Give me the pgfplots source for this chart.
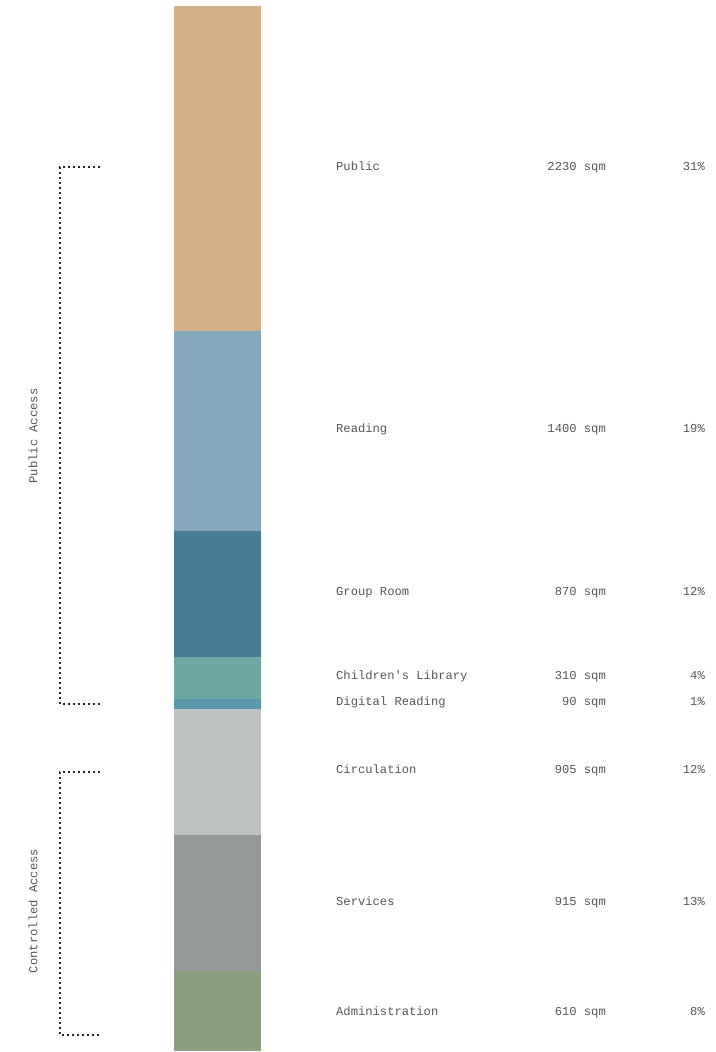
\documentclass[border=0pt]{standalone}
\usepackage{pgfplots}
\pgfplotsset{compat=1.18}
\usepackage{fontspec}
\setmonofont{Liberation Mono}
\definecolor{cPublic}{HTML}{D3B289}
\definecolor{cReading}{HTML}{84A8BA}
\definecolor{cGroup}{HTML}{477E95}
\definecolor{cChild}{HTML}{6DA8A6}
\definecolor{cDigital}{HTML}{5B97AA}
\definecolor{cCirc}{HTML}{BEC1C1}
\definecolor{cServ}{HTML}{949898}
\definecolor{cAdmin}{HTML}{8B9E7F}
\definecolor{txt}{HTML}{555555}
\tikzset{lbl/.style={font=\ttfamily\fontsize{12.2}{14}\selectfont, text=txt, inner sep=0pt},
  brk/.style={black!85, line width=2bp, dash pattern=on 2bp off 3bp}}
\begin{document}
\begin{tikzpicture}
\begin{axis}[name=ax,
  scale only axis, width=716bp, height=1052bp,
  xmin=0, xmax=716, ymin=-6, ymax=1046, y dir=reverse,
  hide axis, clip=false,
  ybar stacked, bar width=87, bar shift=0pt,
]
% segment heights (share of the bar, top to bottom)
\addplot[fill=cPublic, draw=none] coordinates {(217.5,325)};
\addplot[fill=cReading, draw=none] coordinates {(217.5,200)};
\addplot[fill=cGroup, draw=none] coordinates {(217.5,126)};
\addplot[fill=cChild, draw=none] coordinates {(217.5,42)};
\addplot[fill=cDigital, draw=none] coordinates {(217.5,10)};
\addplot[fill=cCirc, draw=none] coordinates {(217.5,126)};
\addplot[fill=cServ, draw=none] coordinates {(217.5,136)};
\addplot[fill=cAdmin, draw=none] coordinates {(217.5,80)};

% labels (y = pixel - 6)
\node[lbl, anchor=mid west] at (axis cs:336,162.5) {Public};
\node[lbl, anchor=mid east] at (axis cs:606,162.5) {2230 sqm};
\node[lbl, anchor=mid east] at (axis cs:705,162.5) {31\%};
\node[lbl, anchor=mid west] at (axis cs:336,424.5) {Reading};
\node[lbl, anchor=mid east] at (axis cs:606,424.5) {1400 sqm};
\node[lbl, anchor=mid east] at (axis cs:705,424.5) {19\%};
\node[lbl, anchor=mid west] at (axis cs:336,587.5) {Group Room};
\node[lbl, anchor=mid east] at (axis cs:606,587.5) {870 sqm};
\node[lbl, anchor=mid east] at (axis cs:705,587.5) {12\%};
\node[lbl, anchor=mid west] at (axis cs:336,671.5) {Children's Library};
\node[lbl, anchor=mid east] at (axis cs:606,671.5) {310 sqm};
\node[lbl, anchor=mid east] at (axis cs:705,671.5) {4\%};
\node[lbl, anchor=mid west] at (axis cs:336,697.5) {Digital Reading};
\node[lbl, anchor=mid east] at (axis cs:606,697.5) {90 sqm};
\node[lbl, anchor=mid east] at (axis cs:705,697.5) {1\%};
\node[lbl, anchor=mid west] at (axis cs:336,765.5) {Circulation};
\node[lbl, anchor=mid east] at (axis cs:606,765.5) {905 sqm};
\node[lbl, anchor=mid east] at (axis cs:705,765.5) {12\%};
\node[lbl, anchor=mid west] at (axis cs:336,897.5) {Services};
\node[lbl, anchor=mid east] at (axis cs:606,897.5) {915 sqm};
\node[lbl, anchor=mid east] at (axis cs:705,897.5) {13\%};
\node[lbl, anchor=mid west] at (axis cs:336,1007.5) {Administration};
\node[lbl, anchor=mid east] at (axis cs:606,1007.5) {610 sqm};
\node[lbl, anchor=mid east] at (axis cs:705,1007.5) {8\%};

% group brackets
\draw[brk] (axis cs:100,161) -- (axis cs:60,161) -- (axis cs:60,698) -- (axis cs:100,698);
\draw[brk] (axis cs:100,766) -- (axis cs:60,766) -- (axis cs:60,1029) -- (axis cs:100,1029);
\node[lbl, rotate=90] at (axis cs:33,430) {Public Access};
\node[lbl, rotate=90] at (axis cs:33,905) {Controlled Access};
\end{axis}
\pgfresetboundingbox
\path (ax.south west) rectangle (ax.north east);
\end{tikzpicture}
\end{document}
